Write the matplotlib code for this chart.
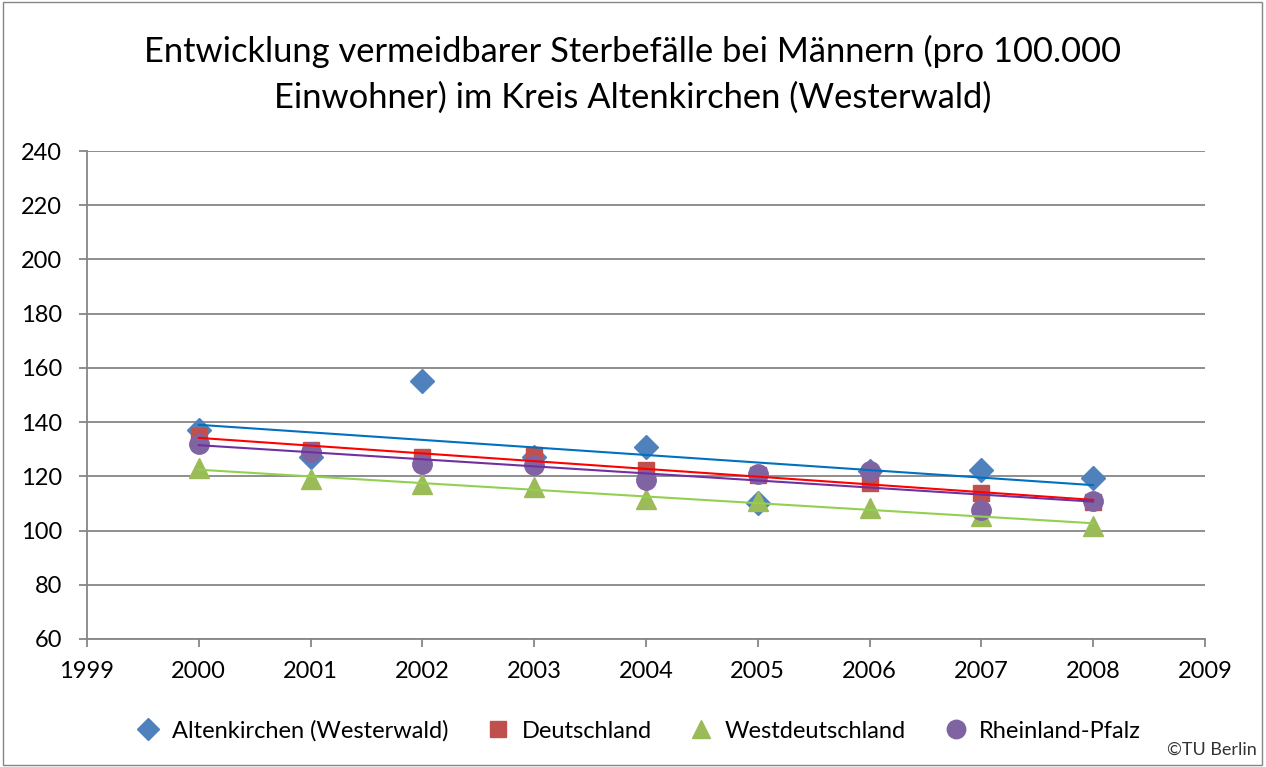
import matplotlib
matplotlib.use("Agg")
import matplotlib.pyplot as plt
import numpy as np
from matplotlib.patches import Rectangle

plt.rcParams['font.family'] = ['Lato', 'DejaVu Sans']

years = np.array([2000, 2001, 2002, 2003, 2004, 2005, 2006, 2007, 2008])
altenkirchen = [137, 127, 155, 127, 131, 110, 122, 122.5, 119.4]
deutschland = [135, 129.7, 127, 128, 122.5, 120.5, 117.5, 114, 110.5]
westdeutschland = [123, 119, 117, 116, 111.6, 111, 108.3, 105.5, 101.7]
rheinland_pfalz = [132, 129, 124.5, 124, 118.6, 121, 122, 107.6, 111]

series = [
    ("Altenkirchen (Westerwald)", altenkirchen, "D", 12, "#4F81BD", "#0070C0"),
    ("Deutschland", deutschland, "s", 12, "#C0504D", "#FF0000"),
    ("Westdeutschland", westdeutschland, "^", 14, "#9BBB59", "#92D050"),
    ("Rheinland-Pfalz", rheinland_pfalz, "o", 14, "#8064A2", "#7030A0"),
]

fig = plt.figure(figsize=(12.66, 7.67), dpi=100)
ax = fig.add_axes([0.0687, 0.1669, 0.8831, 0.6362])

# markers first, trend lines on top
for name, vals, mk, ms, col, tcol in series:
    ax.plot(years, vals, linestyle="none", marker=mk, markersize=ms,
            color=col, label=name, zorder=3)
for name, vals, mk, ms, col, tcol in series:
    k, d = np.polyfit(years, vals, 1)
    ax.plot(years, k * years + d, color=tcol, linewidth=1.5, zorder=4)

ax.set_xlim(1999, 2009)
ax.set_ylim(60, 240)
ax.set_xticks(range(1999, 2010))
ax.set_yticks(range(60, 241, 20))
ax.yaxis.grid(True, color="#868686", linewidth=1.3)
ax.set_axisbelow(True)
for s in ["top", "right"]:
    ax.spines[s].set_visible(False)
for s in ["left", "bottom"]:
    ax.spines[s].set_color("#868686")
    ax.spines[s].set_linewidth(1.3)
ax.tick_params(axis="both", labelsize=17, color="#868686", length=6, width=1.3)
ax.tick_params(axis="x", pad=10)
ax.tick_params(axis="y", pad=12)

fig.text(0.5, 0.903, "Entwicklung vermeidbarer Sterbefälle bei Männern (pro 100.000\n"
         "Einwohner) im Kreis Altenkirchen (Westerwald)",
         ha="center", va="center", fontsize=24.8, linespacing=1.5)

fig.legend(loc="center", bbox_to_anchor=(0.5, 0.047), ncol=4, frameon=False,
           fontsize=17, handletextpad=0.0, columnspacing=1.1, markerscale=0.95)

fig.text(0.993, 0.022, "©TU Berlin", ha="right", va="center", fontsize=13,
         color="#333333")

fig.patches.append(Rectangle((0.002, 0.002), 0.995, 0.995, transform=fig.transFigure,
                             fill=False, edgecolor="#868686", linewidth=1))

plt.savefig("out.png", dpi=100)
